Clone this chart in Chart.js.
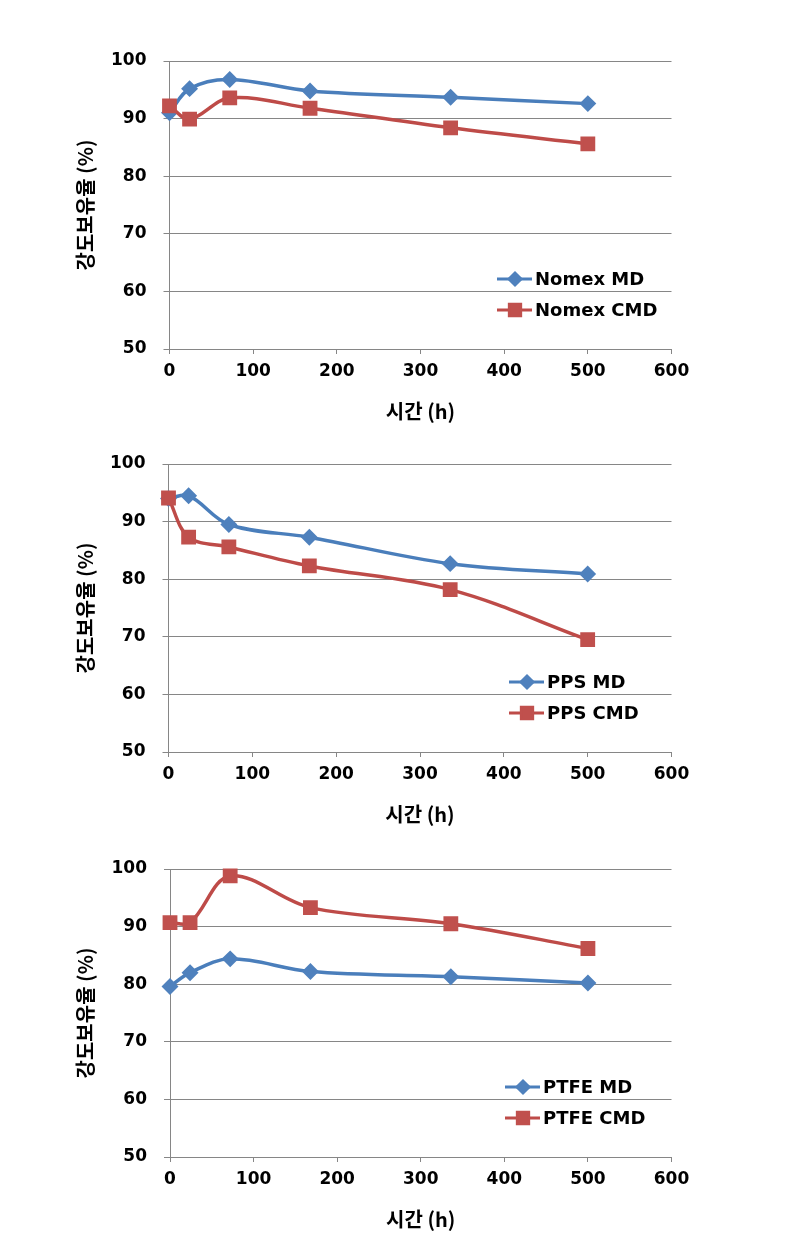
<!DOCTYPE html>
<html>
<head>
<meta charset="utf-8">
<script src="https://cdn.jsdelivr.net/npm/chart.js@4.4.1/dist/chart.umd.min.js"></script>
<style>
  body { margin: 0; background: #fff; }
  .wrap { position: absolute; left: 0; width: 793px; height: 402px; }
</style>
</head>
<body>
<div class="wrap" style="top:21px"><canvas id="c1" width="793" height="402"></canvas></div>
<div class="wrap" style="top:424px"><canvas id="c2" width="793" height="402"></canvas></div>
<div class="wrap" style="top:829px"><canvas id="c3" width="793" height="402"></canvas></div>
<script>
// time points (h)
var hours = [0, 24, 72, 168, 336, 500];

// strength retention (%)
var nomexMD  = [91.0, 95.2, 96.8, 94.8, 93.7, 92.6];
var nomexCMD = [92.2, 89.9, 93.6, 91.8, 88.4, 85.6];
var ppsMD    = [94.0, 94.5, 89.5, 87.3, 82.7, 80.9];
var ppsCMD   = [94.1, 87.3, 85.6, 82.3, 78.2, 69.5];
var ptfeMD   = [79.6, 82.0, 84.4, 82.2, 81.3, 80.2];
var ptfeCMD  = [90.7, 90.7, 98.8, 93.3, 90.5, 86.2];

var xTicks = [0, 100, 200, 300, 400, 500, 600];
var yTicks = [50, 60, 70, 80, 90, 100];
var xTitle = '시간 (h)';
var yTitle = '강도보유율 (%)';

var BLUE = '#4A7EBB', BLUE_PT = '#4F81BD';
var RED = '#BE4B48', RED_PT = '#C0504D';
var GRID = '#868686';
var TICK_FONT = { family: 'DejaVu Sans', weight: 'bold', size: 17 };
var TITLE_FONT = { family: 'Noto Sans CJK KR', weight: 'bold', size: 20 };

function pts(vals) {
  return vals.map(function (v, i) { return { x: hours[i], y: v }; });
}

// little legend drawn inside the plot, like the excel original
var insideLegend = {
  id: 'insideLegend',
  afterDraw: function (chart, args, opts) {
    var ctx = chart.ctx, top = chart.chartArea.top;
    ctx.save();
    chart.data.datasets.forEach(function (ds, i) {
      var y = top + opts.rows[i];
      ctx.strokeStyle = ds.borderColor;
      ctx.lineWidth = 3;
      ctx.beginPath();
      ctx.moveTo(opts.x, y);
      ctx.lineTo(opts.x + 35, y);
      ctx.stroke();
      ctx.fillStyle = ds.pointBackgroundColor;
      ctx.strokeStyle = ds.pointBorderColor;
      Chart.helpers.drawPoint(ctx, { pointStyle: ds.pointStyle, radius: ds.pointRadius, borderWidth: 1, rotation: 0 }, opts.x + 18, y);
      ctx.fillStyle = '#000';
      ctx.font = 'bold 18px "DejaVu Sans"';
      ctx.textBaseline = 'middle';
      ctx.textAlign = 'left';
      ctx.fillText(ds.label, opts.x + 38, y + 1);
    });
    ctx.restore();
  }
};

function makeChart(id, mdLabel, mdVals, cmdLabel, cmdVals, leftEdge, legendX) {
  var padLeft = 73;
  return new Chart(document.getElementById(id), {
    type: 'line',
    data: {
      datasets: [{
        label: mdLabel,
        data: pts(mdVals),
        borderColor: BLUE,
        borderWidth: 3.5,
        pointStyle: 'rectRot',
        pointRadius: 6,
        pointBackgroundColor: BLUE_PT,
        pointBorderColor: BLUE_PT,
        tension: 0.35,
        clip: false,
        order: 1
      }, {
        label: cmdLabel,
        data: pts(cmdVals),
        borderColor: RED,
        borderWidth: 3.5,
        pointStyle: 'rect',
        pointRadius: 8,
        pointBackgroundColor: RED_PT,
        pointBorderColor: RED_PT,
        tension: 0.35,
        clip: false,
        order: 0
      }]
    },
    options: {
      responsive: false,
      animation: false,
      layout: { padding: { left: padLeft, right: 793 - 671.5, top: 40, bottom: 0 } },
      plugins: {
        legend: { display: false },
        tooltip: { enabled: false },
        insideLegend: { x: legendX, rows: [218, 249] }
      },
      scales: {
        x: {
          type: 'linear',
          min: 0, max: 600,
          afterBuildTicks: function (s) { s.ticks = xTicks.map(function (v) { return { value: v }; }); },
          afterFit: function (s) { s.height = 74; },
          grid: { drawOnChartArea: false, drawTicks: true, tickLength: 5, color: GRID },
          border: { display: true, color: GRID },
          ticks: { color: '#000', font: TICK_FONT, padding: 7, maxRotation: 0 },
          title: { display: true, text: xTitle, color: '#000', font: TITLE_FONT, padding: 0 }
        },
        y: {
          min: 50, max: 100,
          afterBuildTicks: function (s) { s.ticks = yTicks.map(function (v) { return { value: v }; }); },
          afterFit: function (s) { s.width = leftEdge - padLeft; },
          grid: { color: GRID, drawTicks: true, tickLength: 6 },
          border: { display: true, color: GRID },
          ticks: { color: '#000', font: TICK_FONT, padding: 17 },
          title: { display: true, text: yTitle, color: '#000', font: TITLE_FONT, padding: 0 }
        }
      }
    },
    plugins: [insideLegend]
  });
}

makeChart('c1', 'Nomex MD', nomexMD, 'Nomex CMD', nomexCMD, 169.5, 497);
makeChart('c2', 'PPS MD', ppsMD, 'PPS CMD', ppsCMD, 168.5, 509);
makeChart('c3', 'PTFE MD', ptfeMD, 'PTFE CMD', ptfeCMD, 170, 505);
</script>
</body>
</html>
